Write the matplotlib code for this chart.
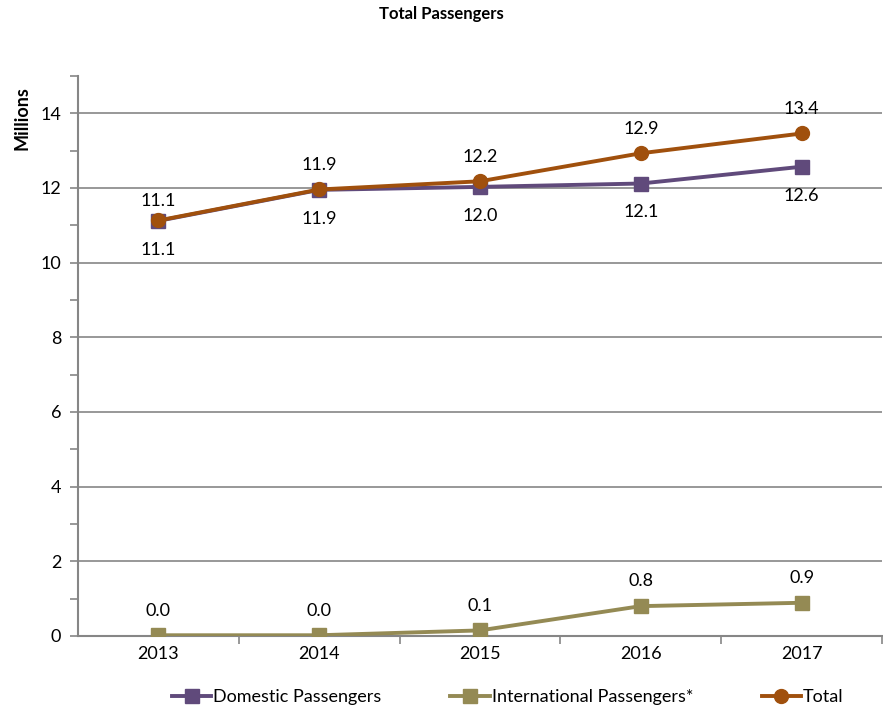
import numpy as np
import matplotlib.pyplot as plt
from matplotlib.ticker import MultipleLocator, FixedLocator

years = ['2013', '2014', '2015', '2016', '2017']
domestic = [11.12, 11.95, 12.03, 12.12, 12.57]
international = [0.02, 0.02, 0.15, 0.80, 0.89]
total = [11.13, 11.96, 12.18, 12.93, 13.46]
dom_labels = ['11.1', '11.9', '12.0', '12.1', '12.6']
int_labels = ['0.0', '0.0', '0.1', '0.8', '0.9']
tot_labels = ['11.1', '11.9', '12.2', '12.9', '13.4']

plt.rcParams['font.family'] = ['Lato', 'DejaVu Sans']

c_dom = '#604a7b'
c_int = '#948a54'
c_tot = '#a0500d'
gray = '#868686'

fig = plt.figure(figsize=(8.83, 7.09), dpi=100)
ax = fig.add_axes([78/883, (709-636)/709, (882-78)/883, (636-76)/709])
x = np.arange(len(years))

ax.plot(x, domestic, color=c_dom, lw=2.8, marker='s', ms=10, label='Domestic Passengers', zorder=3)
ax.plot(x, international, color=c_int, lw=2.8, marker='s', ms=10, label='International Passengers*', zorder=3)
ax.plot(x, total, color=c_tot, lw=2.8, marker='o', ms=10, label='Total', zorder=4)

for i in range(len(x)):
    up = 8 if i == 0 else 12
    ax.annotate(tot_labels[i], (x[i], total[i]), xytext=(0, up), textcoords='offset points',
                ha='center', va='bottom', fontsize=13)
    ax.annotate(dom_labels[i], (x[i], domestic[i]), xytext=(0, -15), textcoords='offset points',
                ha='center', va='top', fontsize=13)
    ax.annotate(int_labels[i], (x[i], international[i]), xytext=(0, 12), textcoords='offset points',
                ha='center', va='bottom', fontsize=13)

ax.set_xlim(-0.5, 4.5)
ax.set_ylim(0, 15)
ax.yaxis.set_major_locator(FixedLocator([0, 2, 4, 6, 8, 10, 12, 14]))
ax.yaxis.set_minor_locator(MultipleLocator(1))
ax.set_xticks(x)
ax.set_xticklabels(years)
ax.xaxis.set_minor_locator(FixedLocator([0.5, 1.5, 2.5, 3.5, 4.5]))
ax.tick_params(axis='x', which='major', length=0, labelsize=13, pad=7)
ax.tick_params(axis='x', which='minor', length=6, color=gray, width=1.2)
ax.tick_params(axis='y', which='both', length=6, color=gray, width=1.2, labelsize=13, pad=6)

for y in range(2, 15, 2):
    ax.axhline(y, color=gray, lw=1.2, zorder=1)
for s in ['top', 'right']:
    ax.spines[s].set_visible(False)
for s in ['left', 'bottom']:
    ax.spines[s].set_color(gray)
    ax.spines[s].set_linewidth(1.5)

fig.text(0.5, 1 - 14/709, 'Total Passengers', ha='center', va='center', fontsize=12, fontweight='bold')
fig.text(22/883, 1 - 118/709, 'Millions', rotation=90, ha='center', va='center', fontsize=13, fontweight='bold')

fig.legend(loc='center', bbox_to_anchor=(0.575, 1 - 697/709), ncol=3, frameon=False, fontsize=13,
           handlelength=2.2, handletextpad=0.1, columnspacing=3.8)

fig.savefig('out.png', dpi=100)
